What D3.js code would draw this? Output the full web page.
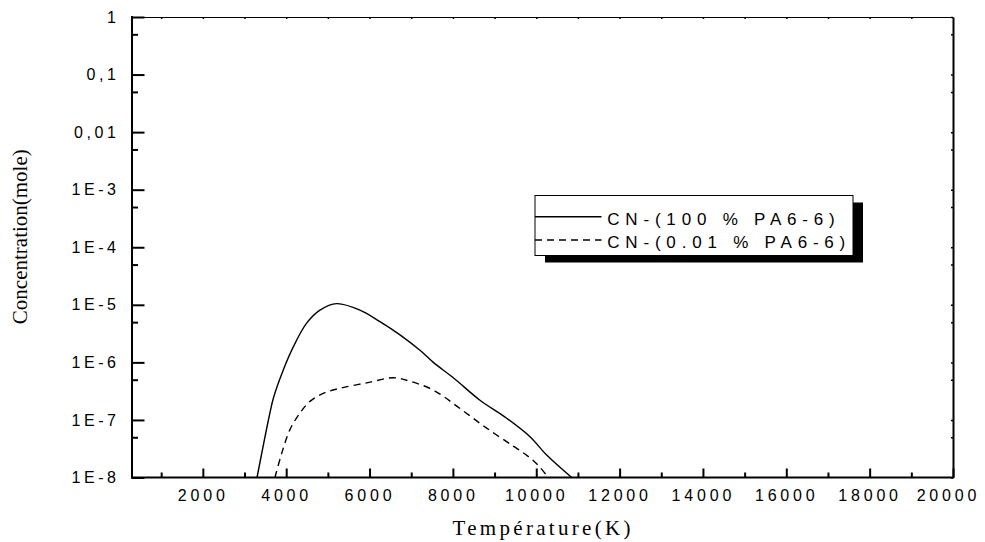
<!DOCTYPE html>
<html>
<head>
<meta charset="utf-8">
<script src="https://cdn.jsdelivr.net/npm/d3@7"></script>
<style>
  html, body { margin: 0; padding: 0; background: #fff; }
  svg { display: block; }
</style>
</head>
<body>
<svg id="chart" width="985" height="542"></svg>
<script>
// ---------- data ----------
const solidT = [3300, 3600, 3700, 3930, 4170, 4490, 4810, 5210, 5770, 6250, 6730, 7210, 7530, 8010, 8650, 9290, 9850, 10250, 10850];
const solidC = [1e-8, 1.23e-7, 2.5e-7, 7.4e-7, 1.86e-6, 4.8e-6, 8.1e-6, 1.05e-5, 8.1e-6, 5.1e-6, 3.0e-6, 1.62e-6, 1.0e-6, 5.4e-7, 2.2e-7, 1.07e-7, 5.1e-8, 2.45e-8, 1e-8];

const dashT = [3730, 3890, 4090, 4330, 4570, 4890, 5290, 5930, 6570, 6970, 7530, 8170, 8810, 9450, 9850, 10090, 10290];
const dashC = [1e-8, 2.6e-8, 6.8e-8, 1.32e-7, 2.1e-7, 2.9e-7, 3.55e-7, 4.4e-7, 5.4e-7, 4.7e-7, 3.3e-7, 1.58e-7, 7.2e-8, 3.5e-8, 2.2e-8, 1.5e-8, 1e-8];

const seriesNames = ["CN-(100 % PA6-6)", "CN-(0.01 % PA6-6)"];

const xMajorTicks = [2000, 4000, 6000, 8000, 10000, 12000, 14000, 16000, 18000, 20000];
const xMinorTicks = [1000, 3000, 5000, 7000, 9000, 11000, 13000, 15000, 17000, 19000];
const xTopTicks = [1000, 2000, 3000, 4000, 5000, 6000, 7000, 8000, 9000, 10000, 11000, 12000, 13000, 14000, 15000, 16000, 17000, 18000, 19000];

const yMajorTicks = [1e-8, 1e-7, 1e-6, 1e-5, 1e-4, 1e-3, 1e-2, 1e-1, 1];
const yTickLabels = ["1E-8", "1E-7", "1E-6", "1E-5", "1E-4", "1E-3", "0,01", "0,1", "1"];
const yMinorTicks = [5e-8, 5e-7, 5e-6, 5e-5, 5e-4, 5e-3, 5e-2, 5e-1];

const xTitle = "Température(K)";
const yTitle = "Concentration(mole)";

// ---------- layout ----------
const L = 132, R = 953, T = 17, B = 477.5;
const svg = d3.select("#chart");

const x = d3.scaleLinear().domain([300, 20000]).range([L, R]);
const y = d3.scaleLog().domain([1e-8, 1]).range([B, T]);

const sans = "'Liberation Sans', Arial, sans-serif";
const serif = "'Liberation Serif', 'Times New Roman', serif";

// top axis (thin, tiny ticks)
const gTop = svg.append("g").attr("transform", `translate(0,${T})`)
  .call(d3.axisTop(x).tickValues(xTopTicks).tickSize(-2).tickSizeOuter(0).tickFormat(""));
gTop.select(".domain").attr("stroke", "#000").attr("stroke-width", 1);
gTop.selectAll(".tick line").attr("stroke", "#000").attr("stroke-width", 1.5);

// right axis
const gRight = svg.append("g").attr("transform", `translate(${R},0)`)
  .call(d3.axisRight(y).tickValues(yMajorTicks.concat(yMinorTicks)).tickSize(-2).tickSizeOuter(0).tickFormat(""));
gRight.select(".domain").attr("stroke", "#000").attr("stroke-width", 2);
gRight.selectAll(".tick line").attr("stroke", "#000").attr("stroke-width", 1.5);

// bottom minor
const gBotMinor = svg.append("g").attr("transform", `translate(0,${B})`)
  .call(d3.axisBottom(x).tickValues(xMinorTicks).tickSize(-5).tickSizeOuter(0).tickFormat(""));
gBotMinor.select(".domain").remove();
gBotMinor.selectAll(".tick line").attr("stroke", "#000").attr("stroke-width", 2);

// bottom major
const xls = 3.8;
const gBot = svg.append("g").attr("transform", `translate(0,${B})`)
  .call(d3.axisBottom(x).tickValues(xMajorTicks).tickSize(-9).tickSizeOuter(0).tickPadding(12).tickFormat(d3.format("d")));
gBot.select(".domain").attr("stroke", "#000").attr("stroke-width", 2)
  .attr("d", `M${L - 1},0H${R + 1}`);
gBot.selectAll(".tick line").attr("stroke", "#000").attr("stroke-width", 2);
gBot.selectAll(".tick text").attr("font-family", sans).attr("font-size", 16)
  .attr("letter-spacing", xls)
  .attr("dx", (d, i) => xls / 2 - (i === xMajorTicks.length - 1 ? 7 : 2))
  .attr("fill", "#000");

// left minor
const gLeftMinor = svg.append("g").attr("transform", `translate(${L},0)`)
  .call(d3.axisLeft(y).tickValues(yMinorTicks).tickSize(-6).tickSizeOuter(0).tickFormat(""));
gLeftMinor.select(".domain").remove();
gLeftMinor.selectAll(".tick line").attr("stroke", "#000").attr("stroke-width", 2);

// left major
const yls = 3.6;
const gLeft = svg.append("g").attr("transform", `translate(${L},0)`)
  .call(d3.axisLeft(y).tickValues(yMajorTicks).tickSize(-12.5).tickSizeOuter(0).tickPadding(16)
    .tickFormat((d, i) => yTickLabels[i]));
gLeft.select(".domain").attr("stroke", "#000").attr("stroke-width", 2)
  .attr("d", `M0,${T - 1}V${B + 1}`);
gLeft.selectAll(".tick line").attr("stroke", "#000").attr("stroke-width", 2);
gLeft.selectAll(".tick text").attr("font-family", sans).attr("font-size", 16)
  .attr("letter-spacing", yls).attr("dx", yls).attr("fill", "#000");

// ---------- curves ----------
const line = d3.line().x(d => x(d[0])).y(d => y(d[1])).curve(d3.curveCatmullRom.alpha(0.5));
const solidData = solidT.map((t, i) => [t, solidC[i]]);
const dashData = dashT.map((t, i) => [t, dashC[i]]);

svg.append("path").datum(solidData).attr("d", line)
  .attr("fill", "none").attr("stroke", "#000").attr("stroke-width", 1.4);
svg.append("path").datum(dashData).attr("d", line)
  .attr("fill", "none").attr("stroke", "#000").attr("stroke-width", 1.4)
  .attr("stroke-dasharray", "7,5");

// ---------- legend ----------
const lg = svg.append("g");
const lx = 535, ly = 195.5, lw = 318, lh = 60;
lg.append("rect").attr("x", lx + 10).attr("y", ly + 7).attr("width", lw).attr("height", lh).attr("fill", "#000");
lg.append("rect").attr("x", lx).attr("y", ly).attr("width", lw).attr("height", lh)
  .attr("fill", "#fff").attr("stroke", "#000").attr("stroke-width", 1);
const legY = [216.7, 240];
const legBase = [225, 248.3];
lg.append("line").attr("x1", lx).attr("x2", 601.5).attr("y1", legY[0]).attr("y2", legY[0])
  .attr("stroke", "#000").attr("stroke-width", 1.4);
lg.append("line").attr("x1", lx).attr("x2", 601.5).attr("y1", legY[1]).attr("y2", legY[1])
  .attr("stroke", "#000").attr("stroke-width", 1.4).attr("stroke-dasharray", "7,5");
seriesNames.forEach((n, i) => {
  lg.append("text").attr("x", 607.3).attr("y", legBase[i])
    .attr("font-family", sans).attr("font-size", 17).attr("letter-spacing", 5.8)
    .attr("fill", "#000").text(n);
});

// ---------- titles ----------
svg.append("text").attr("x", 541.5 + 1.65).attr("y", 535).attr("text-anchor", "middle")
  .attr("font-family", serif).attr("font-size", 21).attr("letter-spacing", 3.3)
  .attr("fill", "#000").text(xTitle);
svg.append("text").attr("transform", "translate(27.3,236.7) rotate(-90)").attr("text-anchor", "middle")
  .attr("font-family", serif).attr("font-size", 21)
  .attr("fill", "#000").text(yTitle);
</script>
</body>
</html>
